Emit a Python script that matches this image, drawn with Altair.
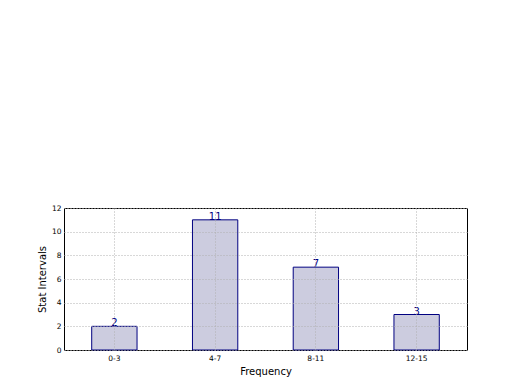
import altair as alt
import pandas as pd

intervals = ["0-3", "4-7", "8-11", "12-15"]
counts = [2, 11, 7, 3]
y_ticks = [0, 2, 4, 6, 8, 10, 12]

df = pd.DataFrame({"interval": intervals, "count": counts})

FONT = "DejaVu Sans"

x_enc = alt.X(
    "interval:N",
    sort=intervals,
    title="Frequency",
    scale=alt.Scale(paddingInner=0.55, paddingOuter=0.275),
    axis=alt.Axis(
        labelAngle=0, labelFontSize=7.5, labelFont=FONT, labelColor="black",
        titleFontSize=10, titleFont=FONT, titleFontWeight="normal", titleColor="black",
        titlePadding=5, grid=True, gridColor="#b0b0b0", gridDash=[1, 2], gridWidth=1,
        domain=False, ticks=False, labelPadding=4, zindex=1,
    ),
)
y_enc = alt.Y(
    "count:Q",
    title="Stat Intervals",
    scale=alt.Scale(domain=[0, 12], nice=False),
    axis=alt.Axis(
        values=y_ticks, labelOverlap=False, labelFontSize=7.5, labelFont=FONT, labelColor="black",
        titleFontSize=10, titleFont=FONT, titleFontWeight="normal", titleColor="black",
        titlePadding=4, grid=True, gridColor="#b0b0b0", gridDash=[1, 2], gridWidth=1,
        domain=False, ticks=False, labelPadding=3, zindex=1,
    ),
)

base = alt.Chart(df).encode(x=x_enc, y=y_enc)
bars = base.mark_bar(color="#ccccdf", stroke="#000080", strokeWidth=1)
labels = base.mark_text(
    color="#000080", fontSize=10, font=FONT, baseline="bottom", dy=2
).encode(text="count:Q")

chart = (
    (bars + labels)
    .properties(
        width=403, height=142,
        autosize=alt.AutoSizeParams(type="none"),
        padding={"left": 56, "top": 200, "right": 45, "bottom": 30},
        background="white",
    )
    .configure_view(stroke="black", strokeWidth=1)
)

chart.save("out.html", embed_options={"renderer": "svg", "actions": False})
